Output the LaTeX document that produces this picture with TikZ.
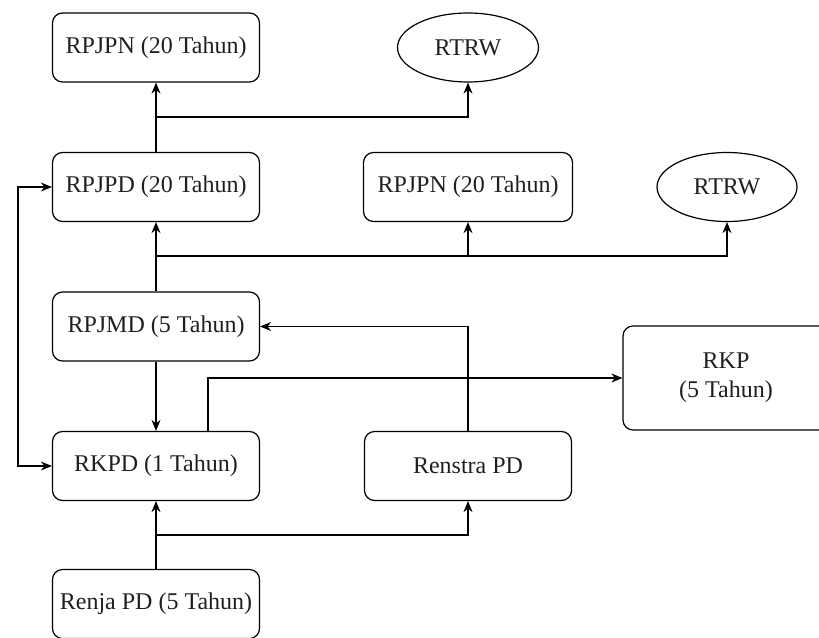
\documentclass[tikz,border=0pt]{standalone}
\usepackage{fontspec}
\setmainfont{Liberation Serif}
\newfontfamily\diagfont{Liberation Serif}
\usetikzlibrary{arrows.meta,shapes.geometric}
\begin{document}
\begin{tikzpicture}[x=1pt,y=-1pt,
  txt/.style={font=\diagfont\fontsize{24}{29}\selectfont,text=black!88},
  box/.style={txt,draw,line width=1.2pt,rounded corners=10pt,minimum width=207pt,minimum height=69pt,inner sep=0pt,align=center},
  oval/.style={txt,draw,line width=1.2pt,ellipse,minimum width=141pt,minimum height=69pt,inner sep=0pt},
  conn/.style={line width=1.3pt},
  arr/.style={conn,-{Stealth[length=11pt,width=9pt]}},
  arrboth/.style={conn,{Stealth[length=11pt,width=9pt]}-{Stealth[length=11pt,width=9pt]}}]
\useasboundingbox (0,0) rectangle (819,637);
\node[box] (rpjpn1) at (156,47.5) {RPJPN (20 Tahun)};
\node[oval] (rtrw1) at (468,47.5) {RTRW};
\node[box] (rpjpd) at (156,187) {RPJPD (20 Tahun)};
\node[box,minimum width=209pt] (rpjpn2) at (468,187) {RPJPN (20 Tahun)};
\node[oval,minimum width=140pt] (rtrw2) at (727,187) {RTRW};
\node[box] (rpjmd) at (156,326.5) {RPJMD (5 Tahun)};
\node[box,minimum width=206pt,minimum height=104pt] (rkp) at (726,378) {RKP\\(5 Tahun)};
\node[box] (rkpd) at (156,466) {RKPD (1 Tahun)};
\node[box] (renstra) at (468,466) {Renstra PD};
\node[box] (renja) at (156,604) {Renja PD (5 Tahun)};
% top group
\coordinate (j1) at (156,117);
\draw[conn] (rpjpd.north) -- (j1);
\draw[arr] (j1) -- (rpjpn1.south);
\draw[arr] (j1) -| (rtrw1.south);
% middle group
\coordinate (j2) at (156,256);
\draw[conn] (rpjmd.north) -- (j2);
\draw[arr] (j2) -- (rpjpd.south);
\draw[arr] (j2) -| (rpjpn2.south);
\draw[arr] (j2) -| (rtrw2.south);
% rpjmd to rkpd
\draw[arr] (rpjmd.south) -- (rkpd.north);
% left loop
\coordinate (l1) at (18,187);
\coordinate (l2) at (18,466);
\draw[arrboth] (rpjpd.west) -- (l1) -- (l2) -- (rkpd.west);
% rkpd to rkp
\draw[arr] ([xshift=52pt]rkpd.north) |- (rkp.west);
% renstra to rpjmd
\draw[arr] (renstra.north) |- (rpjmd.east);
% bottom group
\coordinate (j3) at (156,535);
\draw[conn] (renja.north) -- (j3);
\draw[arr] (j3) -- (rkpd.south);
\draw[arr] (j3) -| (renstra.south);
\end{tikzpicture}
\end{document}
